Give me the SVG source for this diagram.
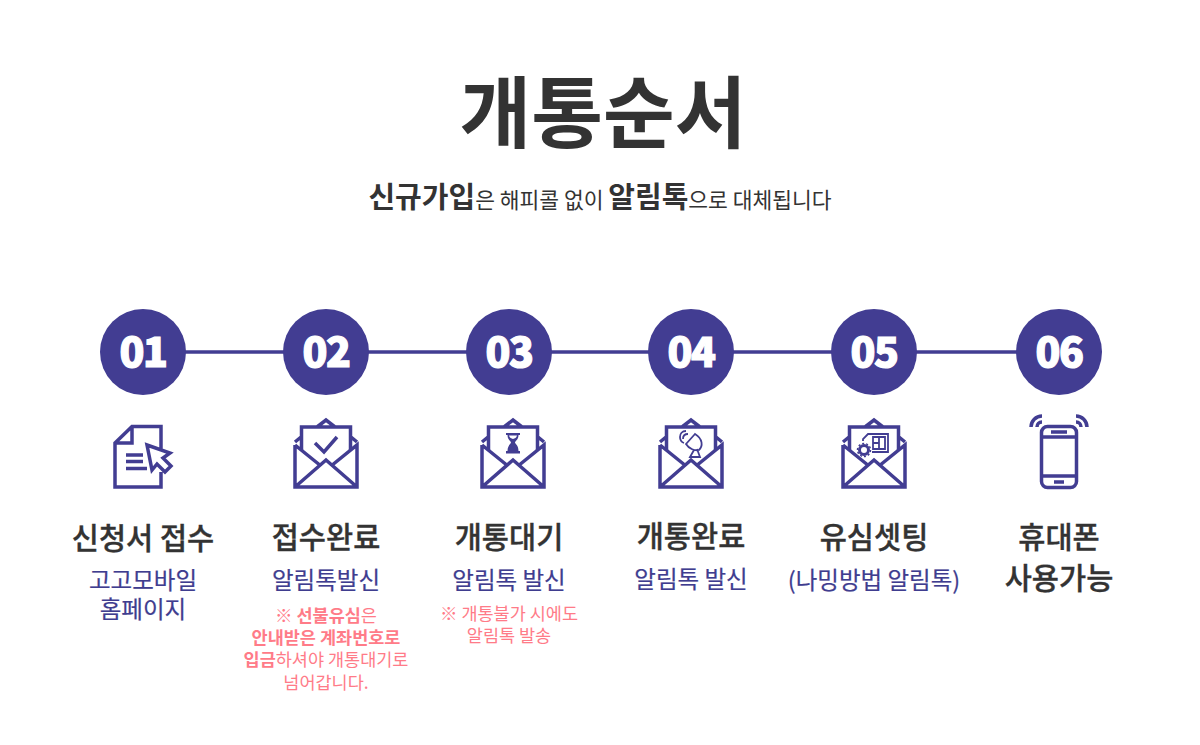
<svg xmlns="http://www.w3.org/2000/svg" width="1200" height="745" viewBox="0 0 1200 745">
<style>
text{font-family:"Noto Sans CJK KR","Noto Sans",sans-serif;text-anchor:middle}
.t{font-size:29.500px;font-weight:500;fill:#333;stroke:#333;stroke-width:.35}
.s{font-size:23.500px;font-weight:400;fill:#3f3d8f;stroke:#3f3d8f;stroke-width:.2}
.n{font-size:17.500px;font-weight:400;fill:#ff7b88}
.b{font-weight:700}
.num{font-size:41px;font-weight:900;fill:#fff;stroke:#fff;stroke-width:1.200;letter-spacing:-1.500px}
.c{fill:#423d92}
.i{fill:none;stroke:#423d92;stroke-width:3.500}
.f{fill:#423d92}
.ln{stroke:#423d92;stroke-width:3.500;fill:none}
.d{fill:none;stroke:#423d92;stroke-width:1.800}
</style>
<defs>
<g id="env">
<path class="i" d="M-24.500 -10V-33H24.500V-10M-25 -23L-31 -18M25 -23L31 -18M-9 -33L0 -40L9 -33"/>
<path class="i" d="M-31 -15V27H31V-15L5 6M-31 -15L-5 6M-31 27L0 0L31 27"/>
</g>
</defs>
<text x="603" y="142" style="font-size:78px;font-weight:700;fill:#333">개통순서</text>
<text x="600" y="208" style="font-size:21.500px;fill:#333"><tspan style="font-size:29px;font-weight:700">신규가입</tspan>은 해피콜 없이 <tspan style="font-size:29px;font-weight:700">알림톡</tspan>으로 대체됩니다</text>
<g id="connectors"><path class="ln" d="M143 352H1059"/></g>
<g id="node1">
<circle class="c" cx="143" cy="352" r="43"/><text class="num" x="143" y="367">01</text>
<path class="i" d="M161 449V426.500H132L115 443V487H161V472M132 426.500V443H115M126 455H143M126 461.500H143M126 468.500H147M147 445L170 453L163 458L171 466L165 472L157 464L152 470Z"/>
<text class="t" x="143" y="549">신청서 접수</text>
<text class="s" x="143" y="589">고고모바일</text><text class="s" x="143" y="618">홈페이지</text>
</g>
<g id="node2">
<circle class="c" cx="326" cy="352" r="43"/><text class="num" x="326" y="367">02</text>
<use href="#env" x="326" y="460"/>
<path fill="none" stroke="#423d92" stroke-width="3.500" d="M315 443L324 452L337 437"/>
<text class="t" x="326" y="548">접수완료</text>
<text class="s" x="326" y="589">알림톡발신</text>
<text class="n" x="326" y="622">※ <tspan class="b">선불유심</tspan>은</text>
<text class="n b" x="326" y="644">안내받은 계좌번호로</text>
<text class="n" x="326" y="666"><tspan class="b">입금</tspan>하셔야 개통대기로</text>
<text class="n" x="326" y="689">넘어갑니다.</text>
</g>
<g id="node3">
<circle class="c" cx="509" cy="352" r="43"/><text class="num" x="509" y="367">03</text>
<use href="#env" x="513" y="460"/>
<path class="f" d="M506 433H520V435H518.500C518.500 440 515 441 515 442.500C515 444 518.500 445 518.500 451H520V453.500H506V451H507.500C507.500 445 511 444 511 442.500C511 441 507.500 440 507.500 435H506Z"/>
<path fill="#fff" d="M509 435.500H517C516.500 438 514.500 438.500 513 439C511.500 438.500 509.500 438 509 435.500Z"/>
<text class="t" x="509" y="548">개통대기</text>
<text class="s" x="509" y="589">알림톡 발신</text>
<text class="n" x="509" y="620">※ 개통불가 시에도</text>
<text class="n" x="509" y="642">알림톡 발송</text>
</g>
<g id="node4">
<circle class="c" cx="691" cy="352" r="43"/><text class="num" x="691" y="367">04</text>
<use href="#env" x="691" y="460"/>
<path class="d" d="M695 434L686 444C689 449 695 451 699 450C703 446 703 439 695 434ZM694 450L690 457H700L697 449M686 431C682 431 680 434 680 437C680 440 681 442 684 443M688 434C685 434 683 436 683 439"/>
<text class="t" x="691" y="547">개통완료</text>
<text class="s" x="691" y="588">알림톡 발신</text>
</g>
<g id="node5">
<circle class="c" cx="874" cy="352" r="43"/><text class="num" x="874" y="367">05</text>
<use href="#env" x="874" y="460"/>
<path class="d" d="M863 441V439L868 434H888V452H872M873 437H885V449H873ZM879 437V449M873 443H879"/>
<circle cx="864" cy="450" r="4.500" fill="none" stroke="#423d92" stroke-width="3"/><circle cx="864" cy="450" r="6.500" fill="none" stroke="#423d92" stroke-width="1.500" stroke-dasharray="2 2"/>
<text class="t" x="874" y="548">유심셋팅</text>
<text class="s" x="874" y="589">(나밍방법 알림톡)</text>
</g>
<g id="node6">
<circle class="c" cx="1059" cy="352" r="43"/><text class="num" x="1059" y="367">06</text>
<rect class="i" x="1041.500" y="426.500" width="35" height="61" rx="6"/>
<path class="i" d="M1042 437H1076M1042 476H1076M1051 432H1067M1054 482H1064M1031 427C1031 421 1036 416 1042 416M1037 427C1037 424 1039 422 1042 422M1087 427C1087 421 1082 416 1076 416M1081 427C1081 424 1079 422 1076 422"/>
<text class="t" x="1059" y="548">휴대폰</text><text class="t" x="1059" y="589">사용가능</text>
</g>
</svg>
